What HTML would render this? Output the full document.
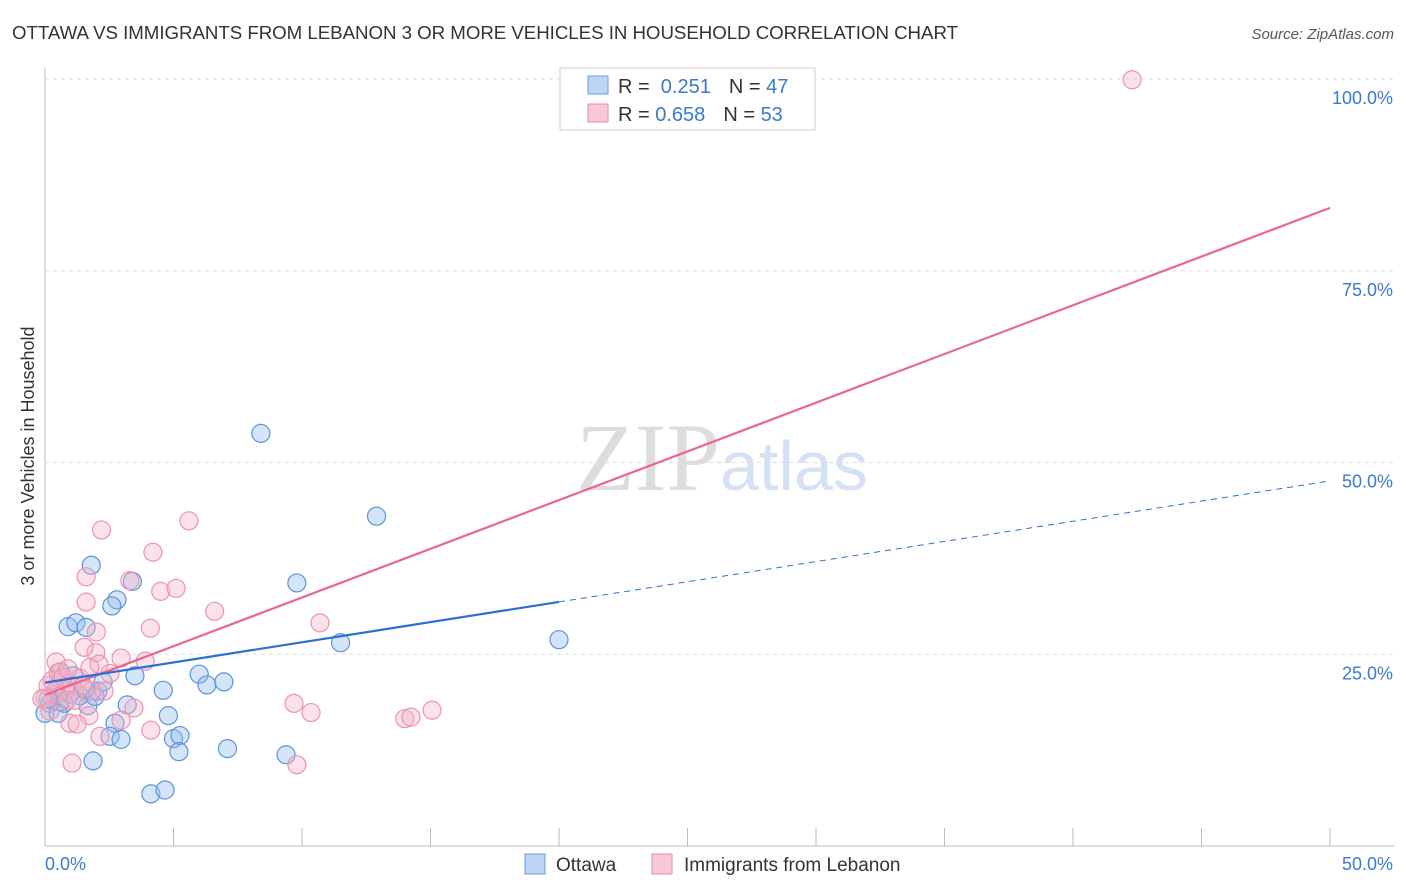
<!DOCTYPE html>
<html><head><meta charset="utf-8"><style>
body{margin:0;background:#fff;font-family:"Liberation Sans",sans-serif}
svg{display:block}
</style></head><body>
<svg width="1406" height="892" id="chart">
<text x="12" y="39" font-size="18.7" fill="#333" textLength="946">OTTAWA VS IMMIGRANTS FROM LEBANON 3 OR MORE VEHICLES IN HOUSEHOLD CORRELATION CHART</text>
<text x="1394" y="39" font-size="15" fill="#555" text-anchor="end" font-style="italic">Source: ZipAtlas.com</text>
<text x="720" y="490" font-size="96" fill="#ddd" text-anchor="end" font-family="Liberation Serif">ZIP</text>
<text x="720" y="490" font-size="70" fill="#d5e2f5">atlas</text>
<text transform="translate(34,456) rotate(-90)" font-size="18" fill="#333" text-anchor="middle">3 or more Vehicles in Household</text>
<g id="grid"></g><g id="pts"></g><g id="lines"></g>
<g>
<rect x="560" y="68" width="255" height="62" fill="#fff" stroke="#ccc"/>
<rect x="588" y="76" width="20" height="18" fill="#bcd4f6" stroke="#6a9be0"/>
<rect x="588" y="104" width="20" height="18" fill="#f9c8d6" stroke="#e98aa8"/>
<text x="618" y="93" font-size="20" fill="#333">R = <tspan fill="#3a78d4">&#160;0.251</tspan><tspan dx="18">N = </tspan><tspan fill="#3a78d4">47</tspan></text>
<text x="618" y="121" font-size="20" fill="#333">R = <tspan fill="#3a78d4">0.658</tspan><tspan dx="18">N = </tspan><tspan fill="#3a78d4">53</tspan></text>
</g>
<g>
<rect x="525" y="854" width="20" height="20" fill="#bcd4f6" stroke="#6a9be0"/>
<text x="556" y="871" font-size="19" fill="#333">Ottawa</text>
<rect x="652" y="854" width="20" height="20" fill="#f9c8d6" stroke="#e98aa8"/>
<text x="684" y="871" font-size="19" fill="#333">Immigrants from Lebanon</text>
</g>
</svg>
<script>
const yTicks=[25,50,75,100];
const yTickLabels=["25.0%","50.0%","75.0%","100.0%"];
const xTicks=[0,5,10,15,20,25,30,35,40,45,50];
const ottawaX=[8.4,12.9,1.8,3.4,9.8,2.8,2.6,0.9,1.2,1.6,11.5,20.0,0.6,1.1,6.0,6.3,6.96,3.5,4.6,3.2,2.06,1.67,0.43,0.19,0,4.8,2.72,2.53,2.96,5.0,5.25,5.21,7.1,9.38,1.87,4.12,4.67,0.74,1.36,2.26,0.27,0.97,0.58,0.12,1.56,1.95,0.51];
const ottawaY=[53.8,43.0,36.6,34.5,34.3,32.1,31.3,28.6,29.1,28.5,26.5,26.9,22.7,22.2,22.4,21.0,21.4,22.2,20.3,18.4,20.2,18.3,20.3,18.6,17.3,17.0,16.0,14.3,13.9,14.0,14.4,12.3,12.7,11.9,11.1,6.8,7.3,18.6,19.6,21.4,19.0,19.8,18.8,19.2,20.4,19.5,17.3];
const lebX=[42.3,2.2,5.6,4.2,1.6,3.3,4.5,5.1,1.6,6.6,2.0,4.1,10.7,3.9,2.96,1.98,0.43,1.52,2.1,1.36,0.78,0.39,0,0.12,0.58,1.05,1.75,2.53,9.69,10.35,14.0,14.24,15.06,3.46,1.71,2.96,0.97,1.25,4.12,2.14,9.8,1.05,2.3,0.86,1.17,0.27,0.51,0.7,1.83,1.48,0.89,-0.12,0.19];
const lebY=[99.9,41.2,42.4,38.3,35.1,34.6,33.2,33.6,31.8,30.6,27.9,28.4,29.1,24.1,24.5,25.2,24.0,25.9,23.7,21.9,20.3,19.7,19.3,20.9,21.8,20.9,23.3,22.5,18.6,17.4,16.6,16.8,17.7,18.0,17.0,16.4,16.0,15.9,15.1,14.3,10.6,10.8,20.2,19.0,19.0,21.6,22.6,22.0,20.2,20.9,23.1,19.2,17.6];
const ottawaTrend=[21.3,47.6], lebTrend=[19.7,83.2], ottawaSolidEnd=20;
const X0=45,X1=1330,Y0=846,Y100=79;
const sx=v=>X0+(X1-X0)*v/50, sy=v=>Y0-(Y0-Y100)*v/100;
const NS="http://www.w3.org/2000/svg";
function mk(tag,attrs,parent){const e=document.createElementNS(NS,tag);for(const k in attrs)e.setAttribute(k,attrs[k]);parent.appendChild(e);return e;}
const grid=document.getElementById('grid');
const axis=mk('line',{x1:45,y1:68,x2:45,y2:846,stroke:'#bbb'},grid);

const xa=mk('line',{x1:45,y1:846,x2:1394,y2:846,stroke:'#bbb'},grid);

yTicks.forEach((t,i)=>{const g=mk('line',{x1:45,x2:1394,y1:sy(t),y2:sy(t),stroke:'#ddd','stroke-dasharray':'4,4'},grid);

const l=mk('text',{x:1393,y:sy(t)+25,'font-size':18,fill:'#3a78d4','text-anchor':'end'},grid);l.textContent=yTickLabels[i];
});
xTicks.forEach(t=>{if(t===0)return;const k=mk('line',{x1:sx(t),x2:sx(t),y1:828,y2:846,stroke:'#bbb'},grid);
});
const xl0=mk('text',{x:45,y:870,'font-size':18,fill:'#3a78d4'},grid);xl0.textContent='0.0%';

const xl1=mk('text',{x:1393,y:870,'font-size':18,fill:'#3a78d4','text-anchor':'end'},grid);xl1.textContent='50.0%';

const pts=document.getElementById('pts');
ottawaX.forEach((x,i)=>{const c=mk('circle',{cx:sx(x),cy:sy(ottawaY[i]),r:9,fill:'rgba(150,190,240,0.4)',stroke:'#5b93dc','stroke-width':1.2},pts);
});
lebX.forEach((x,i)=>{const c=mk('circle',{cx:sx(x),cy:sy(lebY[i]),r:9,fill:'rgba(246,180,200,0.4)',stroke:'#eb94b0','stroke-width':1.2},pts);
});
const ln=document.getElementById('lines');
const ty=(tr,x)=>tr[0]+(tr[1]-tr[0])*x/50;
const p=mk('line',{x1:sx(0),y1:sy(lebTrend[0]),x2:sx(50),y2:sy(lebTrend[1]),stroke:'#e8668f','stroke-width':2.2},ln);

const b=mk('line',{x1:sx(0),y1:sy(ottawaTrend[0]),x2:sx(ottawaSolidEnd),y2:sy(ty(ottawaTrend,ottawaSolidEnd)),stroke:'#2a6fd6','stroke-width':2.2},ln);

const bd=mk('line',{x1:sx(ottawaSolidEnd),y1:sy(ty(ottawaTrend,ottawaSolidEnd)),x2:sx(50),y2:sy(ottawaTrend[1]),stroke:'#2a6fd6','stroke-width':1,'stroke-dasharray':'6,5'},ln);

</script>
</body></html>
